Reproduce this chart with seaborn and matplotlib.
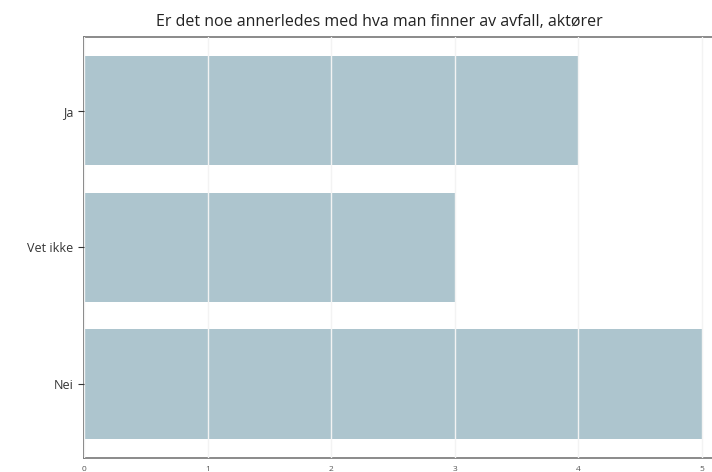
import seaborn as sns
import pandas as pd
import matplotlib.pyplot as plt

# svar og antall
categories = ["Ja", "Vet ikke", "Nei"]
values = [4, 3, 5]

df = pd.DataFrame({"svar": categories, "antall": values})

sns.set_style("white")
plt.rcParams["font.family"] = ["Open Sans", "DejaVu Sans"]

fig = plt.figure(figsize=(7.12, 4.72), dpi=100)
ax = fig.add_axes([0.118, 0.0297, 0.882, 0.892])

sns.barplot(data=df, x="antall", y="svar", color="#adc5ce", saturation=1,
            width=0.8, linewidth=0, ax=ax, zorder=1)

ax.set_xlim(0, 5.08)
ax.set_ylim(2.54, -0.54)
ax.set_xticks([0, 1, 2, 3, 4, 5])
ax.xaxis.grid(True, color="#f3f3f3", linewidth=1, zorder=3)
ax.set_axisbelow(False)
ax.tick_params(axis="x", labelsize=6, colors="#555555", length=4, pad=2)
ax.tick_params(axis="y", labelsize=9, colors="#333333", length=4, left=True)
for s in ["top", "bottom", "left"]:
    ax.spines[s].set_color("#777777")
    ax.spines[s].set_linewidth(1.2)
ax.spines["right"].set_visible(False)
ax.set_xlabel("")
ax.set_ylabel("")
ax.set_title("Er det noe annerledes med hva man finner av avfall, aktører",
             fontsize=11.5, color="#222222", pad=8, x=0.47)

fig.savefig("out.png", dpi=100)
